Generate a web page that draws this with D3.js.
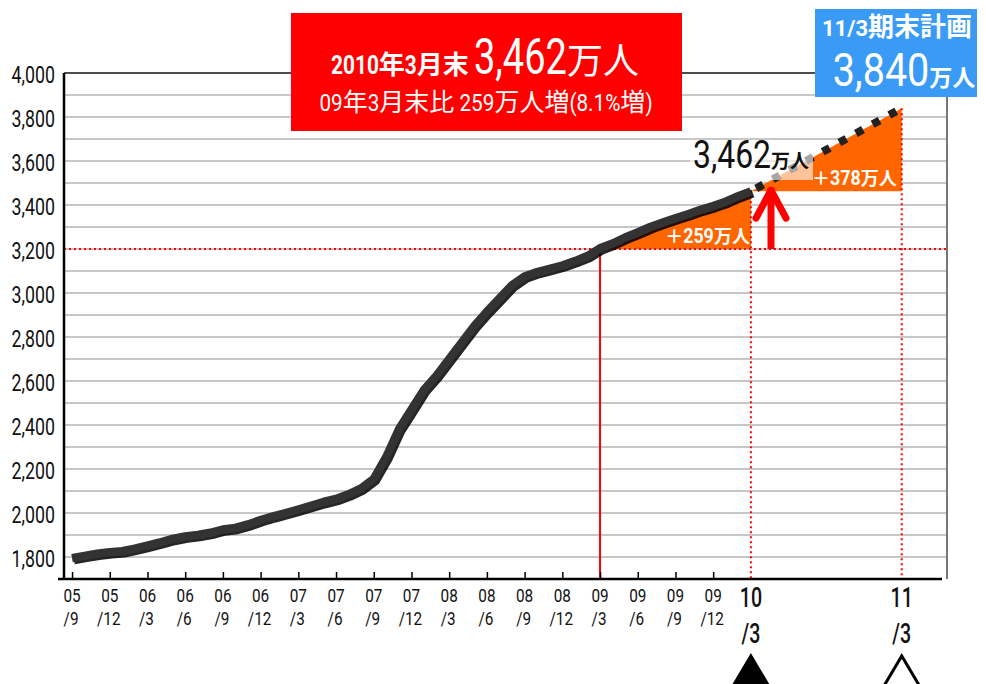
<!DOCTYPE html>
<html>
<head>
<meta charset="utf-8">
<script src="https://cdn.jsdelivr.net/npm/d3@7"></script>
<style>
  body { margin: 0; background: #fff; }
  text { font-family: Roboto, 'Noto Sans CJK JP', sans-serif; white-space: pre; }
</style>
</head>
<body>
<div id="chart"></div>
<script>
// monthly members (10k people), starting 2005/9
const members = [
  1795, 1805, 1815, 1822, 1826, 1838, 1852, 1866, 1882, 1893,
  1900, 1910, 1925, 1932, 1948, 1968, 1985, 2000, 2016, 2033,
  2050, 2064, 2085, 2112, 2155, 2255, 2380, 2470, 2560, 2625,
  2700, 2775, 2850, 2915, 2975, 3035, 3075, 3095, 3110, 3125,
  3145, 3168, 3203, 3225, 3252, 3275, 3300, 3320, 3340, 3358,
  3378, 3395, 3415, 3440, 3462
]

const smallTickMonths = [0, 3, 6, 9, 12, 15, 18, 21, 24, 27, 30, 33, 36, 39, 42, 45, 48, 51]
const smallTickLabels = [
  '05/9', '05/12', '06/3', '06/6', '06/9', '06/12', '07/3', '07/6', '07/9',
  '07/12', '08/3', '08/6', '08/9', '08/12', '09/3', '09/6', '09/9', '09/12'
]
const bigTickMonths = [54, 66]
const bigTickLabels = ['10/3', '11/3']

const yTickValues = [1800, 2000, 2200, 2400, 2600, 2800, 3000, 3200, 3400, 3600, 3800, 4000]
const gridValues = [1800, 1900, 2000, 2100, 2200, 2300, 2400, 2500, 2600, 2700, 2800, 2900,
  3000, 3100, 3200, 3300, 3400, 3500, 3600, 3700, 3800, 3900]

const baseMonth = 42       // 09/3
const baseValue = 3203
const latestMonth = 54     // 10/3
const latestValue = 3462
const planMonth = 66       // 11/3
const planValue = 3840
const refLine = 3200

const LATIN_FONT = 'Roboto, sans-serif'
const CJK_FONT = "'Noto Sans CJK JP', sans-serif"

const svg = d3
  .select('#chart')
  .append('svg')
  .attr('width', 986)
  .attr('height', 684)

const xPositionScale = d3.scaleLinear().domain([-0.64, 69.6]).range([64, 947])
const yPositionScale = d3.scaleLinear().domain([1700, 4000]).range([579, 73])

const x0 = xPositionScale.range()[0]
const x1 = xPositionScale.range()[1]
const yBottom = yPositionScale(1700)
const yTop = yPositionScale(4000)

// text helper: latin parts are squeezed to look condensed, kanji stay normal
const isCjk = ch => /[\u3000-\u9fff\uff00-\uffef]/.test(ch)

function drawLabel(parent, pieces, x, y, anchor, fill) {
  const g = parent.append('g')
  let cursor = 0
  pieces.forEach(piece => {
    const runs = []
    for (const ch of piece.text) {
      const c = isCjk(ch)
      if (runs.length && runs[runs.length - 1].cjk === c) runs[runs.length - 1].text += ch
      else runs.push({ text: ch, cjk: c })
    }
    runs.forEach(r => {
      const style = r.cjk ? piece.cjk : piece.latin
      const s = style.scale || 1
      const t = g.append('text')
        .attr('font-size', style.size)
        .attr('font-weight', style.weight || 'normal')
        .style('font-family', r.cjk ? CJK_FONT : LATIN_FONT)
        .attr('fill', fill)
        .text(r.text)
      const w = t.node().getComputedTextLength() * s
      t.attr('transform', 'translate(' + cursor + ',0) scale(' + s + ',1)')
      cursor += w
    })
  })
  let shift = 0
  if (anchor === 'middle') shift = -cursor / 2
  if (anchor === 'end') shift = -cursor
  g.attr('transform', 'translate(' + (x + shift) + ',' + y + ')')
  return g
}

// grid
svg
  .selectAll('.grid')
  .data(gridValues)
  .enter()
  .append('line')
  .attr('class', 'grid')
  .attr('x1', x0)
  .attr('x2', x1)
  .attr('y1', d => yPositionScale(d))
  .attr('y2', d => yPositionScale(d))
  .attr('stroke', '#b4b4b4')
  .attr('stroke-width', 1.6)

// frame
svg.append('line')
  .attr('x1', x0).attr('x2', x1).attr('y1', yTop).attr('y2', yTop)
  .attr('stroke', '#111').attr('stroke-width', 1.5)
svg.append('line')
  .attr('x1', x1).attr('x2', x1).attr('y1', yTop).attr('y2', yBottom)
  .attr('stroke', '#777').attr('stroke-width', 2)

// orange triangles
svg.append('path')
  .attr('d', d3.line()([
    [xPositionScale(baseMonth), yPositionScale(refLine)],
    [xPositionScale(latestMonth), yPositionScale(refLine)],
    [xPositionScale(latestMonth), yPositionScale(latestValue)]
  ]) + 'Z')
  .attr('fill', '#ff6600')

svg.append('path')
  .attr('d', d3.line()([
    [xPositionScale(latestMonth), yPositionScale(latestValue)],
    [xPositionScale(planMonth), yPositionScale(planValue)],
    [xPositionScale(planMonth), yPositionScale(latestValue)]
  ]) + 'Z')
  .attr('fill', '#ff6600')

// red reference lines
svg.append('line')
  .attr('x1', x0).attr('x2', x1)
  .attr('y1', yPositionScale(refLine)).attr('y2', yPositionScale(refLine))
  .attr('stroke', '#ff0000').attr('stroke-width', 2).attr('stroke-dasharray', '2,3')

svg.append('line')
  .attr('x1', xPositionScale(baseMonth)).attr('x2', xPositionScale(baseMonth))
  .attr('y1', yPositionScale(baseValue)).attr('y2', yBottom)
  .attr('stroke', '#ff0000').attr('stroke-width', 2)

svg
  .selectAll('.drop-line')
  .data([[latestMonth, latestValue], [planMonth, planValue]])
  .enter()
  .append('line')
  .attr('class', 'drop-line')
  .attr('x1', d => xPositionScale(d[0]))
  .attr('x2', d => xPositionScale(d[0]))
  .attr('y1', d => yPositionScale(d[1]))
  .attr('y2', yBottom)
  .attr('stroke', '#ff0000').attr('stroke-width', 2).attr('stroke-dasharray', '2,3')

// main line
const line = d3
  .line()
  .x((d, i) => xPositionScale(i))
  .y(d => yPositionScale(d))

svg.append('path')
  .datum(members)
  .attr('d', line)
  .attr('transform', 'translate(2,2)')
  .attr('fill', 'none')
  .attr('stroke', '#000')
  .attr('stroke-opacity', 0.85)
  .attr('stroke-width', 8.5)
  .attr('stroke-linejoin', 'round')

svg.append('path')
  .datum(members)
  .attr('d', line)
  .attr('fill', 'none')
  .attr('stroke', '#333')
  .attr('stroke-width', 8.5)
  .attr('stroke-linejoin', 'round')

// plan projection (square dots)
svg.append('line')
  .attr('x1', xPositionScale(latestMonth)).attr('y1', yPositionScale(latestValue))
  .attr('x2', xPositionScale(planMonth)).attr('y2', yPositionScale(planValue))
  .attr('stroke', '#222').attr('stroke-width', 8).attr('stroke-dasharray', '8,11')
  .attr('stroke-dashoffset', -6)

// red arrow
const arrowMonth = 55.6
const ax = xPositionScale(arrowMonth)
const tipY = yPositionScale(latestValue + 15)
svg.append('path')
  .attr('d', d3.line()([[ax, yPositionScale(refLine)], [ax, tipY]]))
  .attr('stroke', '#ff0000').attr('stroke-width', 7).attr('fill', 'none')
svg.append('path')
  .attr('d', d3.line()([[ax - 15, tipY + 30], [ax, tipY + 2], [ax + 15, tipY + 30]]))
  .attr('stroke', '#ff0000').attr('stroke-width', 7).attr('fill', 'none')
  .attr('stroke-linecap', 'round').attr('stroke-linejoin', 'round')

// axes
svg.append('line')
  .attr('x1', x0).attr('x2', x0).attr('y1', yTop).attr('y2', yBottom)
  .attr('stroke', '#000').attr('stroke-width', 2.5)

const xAxis = d3.axisBottom(xPositionScale)
  .tickValues(smallTickMonths)
  .tickSize(-7)
  .tickFormat('')
svg.append('g')
  .attr('class', 'axis x-axis')
  .attr('transform', 'translate(0,' + yBottom + ')')
  .call(xAxis)
  .call(g => g.select('.domain').remove())
  .call(g => g.selectAll('line').attr('stroke', '#000').attr('stroke-width', 1.5))

svg.append('line')
  .attr('x1', x0 - 6).attr('x2', x1 - 5).attr('y1', yBottom).attr('y2', yBottom)
  .attr('stroke', '#000').attr('stroke-width', 2.5)

const ySqueeze = 0.74
const yAxis = d3.axisLeft(yPositionScale)
  .tickValues(yTickValues)
  .tickSize(0)
  .tickPadding(9)
  .tickFormat(d3.format(','))
svg.append('g')
  .attr('class', 'axis y-axis')
  .attr('transform', 'translate(' + x0 + ',0)')
  .call(yAxis)
  .call(g => g.select('.domain').remove())
  .call(g => g.selectAll('text')
    .attr('font-size', 24)
    .attr('fill', '#111')
    .attr('dy', '0.4em')
    .attr('x', -9 / ySqueeze)
    .attr('transform', 'scale(' + ySqueeze + ',1)')
    .style('font-family', LATIN_FONT))

// x labels, two lines
const xSqueeze = 0.85
const smallLabels = svg
  .selectAll('.x-label')
  .data(smallTickMonths)
  .enter()
  .append('text')
  .attr('class', 'x-label')
  .attr('text-anchor', 'middle')
  .attr('font-size', 18)
  .attr('fill', '#111')
  .attr('transform', 'scale(' + xSqueeze + ',1)')
smallLabels.append('tspan')
  .attr('x', d => xPositionScale(d) / xSqueeze)
  .attr('y', 602)
  .text((d, i) => smallTickLabels[i].split('/')[0])
smallLabels.append('tspan')
  .attr('x', d => (xPositionScale(d) - 1) / xSqueeze)
  .attr('y', 625)
  .text((d, i) => '/' + smallTickLabels[i].split('/')[1])

const bigSqueeze = 0.7
const bigLabels = svg
  .selectAll('.x-big-label')
  .data(bigTickMonths)
  .enter()
  .append('text')
  .attr('class', 'x-big-label')
  .attr('text-anchor', 'middle')
  .attr('font-size', 28)
  .attr('font-weight', 500)
  .attr('fill', '#111')
  .attr('transform', 'scale(' + bigSqueeze + ',1)')
bigLabels.append('tspan')
  .attr('x', d => xPositionScale(d) / bigSqueeze)
  .attr('y', 607)
  .text((d, i) => bigTickLabels[i].split('/')[0])
bigLabels.append('tspan')
  .attr('x', d => xPositionScale(d) / bigSqueeze)
  .attr('y', 643)
  .text((d, i) => '/' + bigTickLabels[i].split('/')[1])

// markers below big labels
svg
  .selectAll('.marker')
  .data(bigTickMonths)
  .enter()
  .append('path')
  .attr('class', 'marker')
  .attr('d', d => {
    const cx = xPositionScale(d)
    return d3.line()([[cx, 656], [cx + 19, 688], [cx - 19, 688]]) + 'Z'
  })
  .attr('fill', (d, i) => (i === 0 ? '#000' : '#fff'))
  .attr('stroke', '#000')
  .attr('stroke-width', 3)

// labels on triangles
drawLabel(svg, [{
  text: '＋259万人',
  latin: { size: 21, scale: 0.85, weight: 'bold' },
  cjk: { size: 18, weight: 'bold' }
}], xPositionScale(latestMonth) - 1, yPositionScale(refLine) - 6, 'end', '#fff')

svg.append('rect')
  .attr('x', 690)
  .attr('y', 140)
  .attr('width', 123)
  .attr('height', 40)
  .attr('fill', '#fff')
  .attr('fill-opacity', 0.6)

drawLabel(svg, [
  { text: '3,462', latin: { size: 38, scale: 0.84 } },
  { text: '万人', cjk: { size: 19, weight: 'bold' } }
], 693, 168, 'start', '#111')

drawLabel(svg, [{
  text: '＋378万人',
  latin: { size: 21, scale: 0.85, weight: 'bold' },
  cjk: { size: 18, weight: 'bold' }
}], xPositionScale(planMonth) - 5, yPositionScale(latestValue) - 6, 'end', '#fff')

// red headline box
svg.append('rect')
  .attr('x', 291).attr('y', 13).attr('width', 391).attr('height', 118)
  .attr('fill', '#ff0000')

drawLabel(svg, [
  { text: '2010年3月末 ', latin: { size: 26, scale: 0.8, weight: 'bold' }, cjk: { size: 26, weight: 'bold' } },
  { text: '3,462', latin: { size: 50, scale: 0.76 } },
  { text: '万人', cjk: { size: 36 } }
], 485, 74, 'middle', '#fff')

drawLabel(svg, [{
  text: '09年3月末比 259万人増(8.1%増)',
  latin: { size: 23, scale: 0.9 },
  cjk: { size: 25 }
}], 486, 111, 'middle', '#fff')

// blue plan box
svg.append('rect')
  .attr('x', 815).attr('y', 9).attr('width', 162).attr('height', 88)
  .attr('fill', '#3a9bf7')

drawLabel(svg, [{
  text: '11/3期末計画',
  latin: { size: 22, scale: 1, weight: 'bold' },
  cjk: { size: 26, weight: 'bold' }
}], 897, 36, 'middle', '#fff')

drawLabel(svg, [
  { text: '3,840', latin: { size: 46, scale: 0.86 } },
  { text: '万人', cjk: { size: 23, weight: 'bold' } }
], 904, 86, 'middle', '#fff')
</script>
</body>
</html>
